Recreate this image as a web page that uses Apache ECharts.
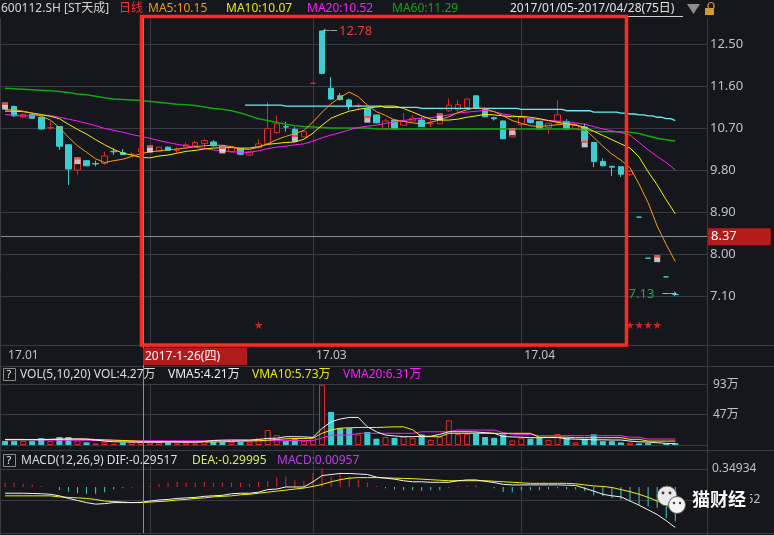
<!DOCTYPE html>
<html>
<head>
<meta charset="utf-8">
<script src="https://cdn.jsdelivr.net/npm/echarts@6/dist/echarts.min.js"></script>
<style>
html,body{margin:0;padding:0;background:#15171c;}
#c{width:774px;height:535px;}
</style>
</head>
<body>
<div id="c"></div>
<script>
// ---- trading days ----
const dates = [
  '2017-01-05','2017-01-06','2017-01-09','2017-01-10','2017-01-11','2017-01-12','2017-01-13','2017-01-16','2017-01-17','2017-01-18',
  '2017-01-19','2017-01-20','2017-01-23','2017-01-24','2017-01-25','2017-01-26',
  '2017-02-03','2017-02-06','2017-02-07','2017-02-08','2017-02-09','2017-02-10','2017-02-13','2017-02-14','2017-02-15','2017-02-16',
  '2017-02-17','2017-02-20','2017-02-21','2017-02-22','2017-02-23','2017-02-24','2017-02-27','2017-02-28',
  '2017-03-01','2017-03-02','2017-03-03','2017-03-06','2017-03-07','2017-03-08','2017-03-09','2017-03-10','2017-03-13','2017-03-14',
  '2017-03-15','2017-03-16','2017-03-17','2017-03-20','2017-03-21','2017-03-22','2017-03-23','2017-03-24','2017-03-27','2017-03-28',
  '2017-03-29','2017-03-30','2017-03-31',
  '2017-04-05','2017-04-06','2017-04-07','2017-04-10','2017-04-11','2017-04-12','2017-04-13','2017-04-14','2017-04-17','2017-04-18',
  '2017-04-19','2017-04-20','2017-04-21','2017-04-24','2017-04-25','2017-04-26','2017-04-27','2017-04-28'
];

// ---- daily bars: [open, close, low, high] ----
const kline = [
  [11.17,11.18,11.13,11.23],[11.16,10.96,10.94,11.18],[10.94,10.99,10.92,11.01],[10.99,10.91,10.90,11.00],[10.93,10.68,10.66,10.94],
  [10.70,10.71,10.66,10.84],[10.73,10.31,10.23,10.74],[10.34,9.82,9.48,10.35],[9.80,10.04,9.70,10.06],[10.00,9.89,9.88,10.01],
  [9.94,9.93,9.88,10.00],[9.94,10.10,9.91,10.19],[10.20,10.19,10.12,10.27],[10.17,10.13,10.12,10.25],[10.13,10.14,10.09,10.18],
  [10.19,10.26,10.17,10.28],[10.25,10.27,10.20,10.30],[10.20,10.29,10.19,10.30],[10.29,10.22,10.21,10.30],[10.22,10.23,10.17,10.28],
  [10.29,10.34,10.28,10.39],[10.32,10.39,10.29,10.43],[10.37,10.43,10.28,10.47],[10.40,10.32,10.30,10.44],[10.31,10.21,10.19,10.33],
  [10.19,10.30,10.18,10.31],[10.26,10.14,10.12,10.27],[10.12,10.19,10.10,10.20],[10.28,10.36,10.26,10.46],[10.36,10.69,10.35,11.26],
  [10.60,10.79,10.58,10.97],[10.73,10.72,10.62,10.84],[10.67,10.55,10.50,10.72],[10.51,10.62,10.50,10.63],[11.66,11.66,11.66,11.66],
  [12.78,11.87,11.85,12.78],[11.55,11.32,11.30,11.79],[11.39,11.31,11.29,11.45],[11.30,11.17,11.08,11.33],[11.17,11.18,11.08,11.23],
  [11.12,10.94,10.93,11.13],[10.98,10.81,10.80,10.99],[10.69,10.85,10.65,10.90],[10.87,10.68,10.67,10.89],[10.76,10.85,10.75,11.02],
  [10.85,10.91,10.84,10.98],[10.87,10.73,10.72,10.93],[10.79,10.80,10.72,10.88],[10.79,10.90,10.78,10.92],[11.07,11.19,11.05,11.33],
  [11.09,11.20,11.04,11.31],[11.14,11.32,11.13,11.33],[11.39,11.14,11.11,11.40],[11.10,10.94,10.93,11.14],[10.92,10.90,10.86,10.94],
  [10.85,10.47,10.46,10.86],[10.51,10.62,10.50,10.64],[10.77,10.93,10.70,11.10],[10.89,10.82,10.79,10.90],[10.84,10.68,10.67,10.85],
  [10.71,10.80,10.57,10.81],[10.84,10.98,10.77,11.30],[10.84,10.68,10.67,10.89],[10.69,10.76,10.68,10.77],[10.72,10.42,10.41,10.80],
  [10.39,9.98,9.86,10.40],[9.98,9.89,9.88,10.05],[9.88,9.86,9.67,9.89],[9.87,9.71,9.65,9.88],[9.70,9.77,9.68,9.79],
  [8.79,8.79,8.79,8.79],[7.91,7.91,7.91,7.91],[7.91,7.91,7.91,7.91],[7.51,7.51,7.51,7.51],[7.13,7.13,7.13,7.13]
];

// ---- moving averages of price ----
const ma5 = [
  11.09,11.09,11.06,11.02,10.95,10.87,10.71,10.50,10.32,10.18,
  10.04,9.96,10.00,10.03,10.09,10.15,10.19,10.21,10.23,10.25,
  10.27,10.30,10.32,10.33,10.33,10.30,10.25,10.24,10.29,10.36,
  10.45,10.52,10.58,10.65,10.83,11.04,11.22,11.36,11.47,11.37,
  11.19,11.05,10.97,10.87,10.84,10.81,10.79,10.82,10.88,10.94,
  11.03,11.09,11.14,11.11,11.05,10.96,10.86,10.80,10.75,10.73,
  10.75,10.77,10.79,10.78,10.67,10.50,10.31,10.14,10.01,9.85,
  9.50,9.10,8.60,8.20,7.84
];
const ma10 = [
  11.06,11.06,11.05,11.02,10.99,10.95,10.90,10.78,10.67,10.57,
  10.45,10.34,10.24,10.16,10.12,10.07,10.06,10.10,10.12,10.16,
  10.20,10.22,10.25,10.27,10.28,10.28,10.27,10.27,10.30,10.35,
  10.37,10.39,10.40,10.46,10.59,10.76,10.91,10.99,11.06,11.10,
  11.13,11.15,11.17,11.17,11.12,11.04,10.96,10.89,10.87,10.87,
  10.89,10.93,10.96,10.99,10.98,10.96,10.94,10.95,10.93,10.90,
  10.86,10.82,10.79,10.76,10.72,10.63,10.54,10.45,10.36,10.27,
  10.08,9.76,9.48,9.16,8.86
];
const ma20 = [
  10.99,10.97,10.96,10.96,10.97,10.97,10.93,10.89,10.85,10.80,
  10.75,10.69,10.65,10.61,10.56,10.52,10.48,10.43,10.39,10.35,
  10.32,10.29,10.26,10.23,10.21,10.19,10.18,10.18,10.21,10.26,
  10.29,10.31,10.34,10.36,10.42,10.49,10.55,10.60,10.66,10.71,
  10.74,10.76,10.80,10.83,10.86,10.89,10.91,10.92,10.95,10.98,
  11.02,11.04,11.06,11.08,11.05,11.00,10.97,10.93,10.90,10.88,
  10.86,10.85,10.84,10.81,10.78,10.73,10.68,10.64,10.60,10.55,
  10.39,10.23,10.09,9.96,9.80
];
const ma60 = [
  11.55,11.54,11.53,11.52,11.51,11.50,11.48,11.46,11.43,11.41,
  11.38,11.35,11.32,11.31,11.30,11.29,11.27,11.25,11.23,11.21,
  11.20,11.18,11.15,11.12,11.10,11.07,11.02,10.96,10.90,10.86,
  10.82,10.78,10.75,10.73,10.72,10.71,10.70,10.70,10.70,10.70,
  10.70,10.68,10.68,10.68,10.68,10.68,10.68,10.68,10.68,10.68,
  10.68,10.68,10.68,10.68,10.68,10.68,10.68,10.68,10.68,10.68,
  10.68,10.68,10.68,10.68,10.65,10.63,10.62,10.62,10.62,10.61,
  10.58,10.53,10.48,10.45,10.42
];
const longMA = [
  null,null,null,null,null,null,null,null,null,null,
  null,null,null,null,null,null,null,null,null,null,
  null,null,null,null,null,null,null,11.19,11.19,11.19,
  11.19,11.17,11.17,11.17,11.17,11.17,11.17,11.17,11.17,11.17,
  11.17,11.17,11.14,11.14,11.14,11.14,11.12,11.12,11.12,11.12,
  11.12,11.12,11.12,11.12,11.12,11.12,11.12,11.10,11.10,11.10,
  11.10,11.10,11.07,11.07,11.07,11.04,11.04,11.04,11.02,11.00,
  10.98,10.96,10.93,10.90,10.86
];

// ---- volume (万手) and its averages ----
const vol = [
  6.1,6.1,6.0,6.0,10.7,6.0,12.3,12.3,7.0,4.1,
  2.5,5.0,2.0,4.0,5.0,4.27,4.0,4.0,4.0,2.5,
  4.0,2.5,7.0,5.0,5.0,5.0,5.0,5.0,10.2,23.0,
  15.3,6.0,9.0,6.0,12.0,93.0,51.0,26.0,26.0,16.4,
  20.0,9.7,12.3,11.0,12.8,11.0,16.4,8.0,12.8,38.0,
  17.0,17.0,17.0,12.3,11.0,16.4,7.0,11.0,9.7,11.0,
  8.0,17.0,11.0,4.0,9.7,16.4,6.0,6.0,4.0,3.5,
  2.5,3.0,0,2.0,3.0
];
const vma5 = [
  8.0,8.0,8.0,8.0,8.0,8.5,9.0,9.2,9.2,9.0,
  7.5,6.0,5.0,4.8,4.5,4.21,4.3,4.3,4.5,4.5,
  4.5,4.5,5.5,7.0,7.5,7.7,7.7,7.7,8.5,10.2,
  10.5,12.8,12.8,12.5,11.7,25.6,35.8,40.0,42.5,42.5,
  28.0,20.4,15.3,14.0,12.8,12.8,13.5,13.5,16.4,20.4,
  20.4,20.4,20.0,19.0,18.0,13.0,12.5,12.0,11.3,11.3,
  11.5,11.5,9.5,9.0,8.5,8.0,8.0,7.7,7.7,6.0,
  5.0,4.5,3.5,2.5,2.0
];
const vma10 = [
  8.5,8.5,8.5,8.5,8.5,8.7,9.0,9.2,9.2,9.2,
  8.5,8.0,7.5,7.0,6.3,5.73,5.5,5.3,5.2,5.0,
  4.8,4.6,4.6,4.8,5.0,5.5,6.0,6.2,6.5,7.5,
  8.5,9.5,10.0,10.0,10.5,18.0,23.0,26.0,26.5,27.0,
  27.0,27.0,27.5,28.0,28.0,23.5,12.8,12.8,12.8,18.0,
  18.0,18.0,18.0,18.0,18.0,18.0,18.0,18.0,18.0,12.0,
  12.0,12.0,12.0,11.3,11.3,11.3,11.3,11.3,11.3,8.7,
  8.7,6.0,6.0,6.0,6.0
];
const vma20 = [
  8.7,8.7,8.7,8.0,7.7,7.5,7.5,7.4,7.3,7.2,
  7.0,6.9,6.7,6.6,6.4,6.31,6.4,6.5,6.5,6.5,
  6.5,6.5,6.5,6.6,6.6,6.6,6.7,6.7,6.7,6.8,
  6.8,6.8,6.9,6.9,7.0,11.0,15.0,15.3,15.3,18.0,
  18.0,18.0,18.0,18.0,18.0,18.0,20.4,20.4,20.4,20.4,
  23.0,23.0,23.0,23.0,23.0,19.0,16.4,16.4,16.4,14.3,
  14.3,14.3,14.3,14.3,14.3,14.3,14.3,14.3,14.3,12.0,
  12.0,9.2,9.2,9.2,9.2
];

// ---- MACD(12,26,9) ----
const dif = [
  -0.12,-0.12,-0.12,-0.125,-0.13,-0.14,-0.17,-0.22,-0.26,-0.30,
  -0.33,-0.32,-0.30,-0.30,-0.30,-0.29517,-0.27,-0.25,-0.24,-0.22,
  -0.21,-0.20,-0.18,-0.17,-0.16,-0.13,-0.12,-0.12,-0.10,-0.05,
  -0.04,0.0,0.0,0.0,0.10,0.22,0.24,0.26,0.26,0.25,
  0.24,0.19,0.17,0.15,0.12,0.10,0.10,0.09,0.09,0.09,
  0.12,0.135,0.135,0.11,0.085,0.05,0.04,0.04,0.04,0.04,
  0.04,0.04,0.035,0.03,-0.026,-0.08,-0.14,-0.17,-0.19,-0.27,
  -0.35,-0.44,-0.53,-0.65,-0.78
];
const dea = [
  -0.17,-0.17,-0.17,-0.17,-0.17,-0.17,-0.19,-0.20,-0.21,-0.22,
  -0.24,-0.27,-0.28,-0.29,-0.30,-0.29995,-0.29,-0.28,-0.27,-0.25,
  -0.24,-0.22,-0.21,-0.19,-0.18,-0.17,-0.15,-0.14,-0.12,-0.10,
  -0.08,-0.06,-0.04,-0.02,0.01,0.05,0.10,0.14,0.17,0.18,
  0.18,0.18,0.175,0.17,0.165,0.16,0.15,0.14,0.13,0.12,
  0.12,0.12,0.12,0.12,0.11,0.10,0.09,0.08,0.07,0.07,
  0.07,0.07,0.07,0.06,0.04,0.02,0.01,-0.01,-0.05,-0.09,
  -0.14,-0.20,-0.27,-0.35,-0.44
];
const macd = [
  0.083,0.083,0.064,0.05,0.02,0.005,-0.06,-0.09,-0.12,-0.13,
  -0.13,-0.10,-0.05,-0.025,-0.01,0.00957,0.02,0.06,0.08,0.096,
  0.08,0.08,0.096,0.08,0.08,0.08,0.08,0.064,0.096,0.11,
  0.18,0.20,0.13,0.11,0.27,0.36,0.20,0.28,0.20,0.15,
  0.08,0.02,-0.026,-0.05,-0.064,-0.064,-0.07,-0.064,-0.058,-0.01,
  0.02,0.035,0.035,0.005,-0.026,-0.096,-0.10,-0.064,-0.064,-0.064,
  -0.045,-0.026,-0.045,-0.05,-0.083,-0.16,-0.18,-0.21,-0.24,-0.26,
  -0.34,-0.37,-0.40,-0.60,-0.66
];

// ---- axis ticks and annotations ----
const priceTicks = [12.5, 11.6, 10.7, 9.8, 8.9, 8.0, 7.1];
const volTicks = [93, 47];
const macdTicks = [0.34934, -0.24952];
const monthLabels = ['17.01', '17.02', '17.03', '17.04'];
const eventDays = [0, 8, 16, 24, 32, 40, 48, 56, 64, 72];
const eventPrices = [11.17, 10.00, 10.25, 10.23, 10.48, 10.89, 10.94, 10.62, 10.36, 7.90];
const starDays = [28, 69, 70, 71, 72];
const starLevel = 6.48;
const cursorDay = 15;
const cursorPrice = 8.37;

// ---- styling ----
const BG = '#15171c';
const UP = '#e5262b';
const DOWN = '#3ccdd0';
const GRID = '#383b41';
const AXTXT = '#bcc0c8';
const FONT = "'Noto Sans','Noto Sans CJK SC',sans-serif";

const monthStart = dates.reduce((acc, d, i) => {
  if (i === 0 || d.slice(5, 7) !== dates[i - 1].slice(5, 7)) acc.push(i);
  return acc;
}, []);
const cats = dates.concat([' ', '  ', '   ']); // empty slots on the right edge

const volData = vol.map((v, i) => {
  const up = i > 0 && kline[i][1] >= kline[i - 1][1];
  if (v === 0) return {value: v, itemStyle: {color: 'transparent', borderWidth: 0}};
  return {value: v, itemStyle: up ? {color: BG, borderColor: UP, borderWidth: 1} : {color: DOWN, borderWidth: 0}};
});
const macdData = macd.map(v => ({value: v, itemStyle: {color: v >= 0 ? '#e8242a' : DOWN}}));

const monthLines = monthStart.slice(1).map(i => ({xAxis: dates[i]}));
const gridMark = (vals) => ({
  silent: true, symbol: ['none', 'none'], z: 1, animation: false,
  label: {show: false}, emphasis: {disabled: true},
  lineStyle: {color: GRID, width: 1, type: 'solid'},
  data: vals.map(v => ({yAxis: v})).concat(monthLines)
});

const lineSeries = (name, data, color, xi, width, extra) => Object.assign({
  name, type: 'line', data, xAxisIndex: xi, yAxisIndex: xi,
  showSymbol: false, symbol: 'none', silent: true, connectNulls: false,
  lineStyle: {color, width: width || 1}, z: 3
}, extra || {});

const weekday = '日一二三四五六';
const cd = dates[cursorDay].split('-');
const cursorDate = new Date(+cd[0], +cd[1] - 1, +cd[2]);
const cursorLabel = `${+cd[0]}-${+cd[1]}-${+cd[2]}(${weekday[cursorDate.getDay()]})`;
const rangeLabel = dates[0].replace(/-/g, '/') + '-' + dates[dates.length - 1].replace(/-/g, '/') + '(' + dates.length + '日)';

const txt = (x, y, text, fill, size, extra) => ({
  type: 'text', x, y, z: 120, silent: true,
  style: Object.assign({text, fill, font: (size || 12) + 'px ' + FONT, verticalAlign: 'middle', align: 'left'}, extra || {})
});
const hline = (y, x1, x2, color) => ({type: 'line', z: 110, silent: true, shape: {x1, y1: y, x2, y2: y}, style: {stroke: color || GRID, lineWidth: 1}});
const vline = (x, y1, y2, color) => ({type: 'line', z: 110, silent: true, shape: {x1: x, y1, x2: x, y2}, style: {stroke: color || GRID, lineWidth: 1}});

const option = {
  backgroundColor: BG,
  animation: false,
  textStyle: {fontFamily: FONT},
  grid: [
    {left: 0.5, right: 67, top: 18, height: 327},
    {left: 0.5, right: 67, top: 384, height: 61},
    {left: 0.5, right: 67, top: 451, height: 82}
  ],
  xAxis: [
    {
      type: 'category', gridIndex: 0, data: cats, boundaryGap: true,
      axisLine: {show: false}, axisTick: {show: false}, splitLine: {show: false},
      axisLabel: {
        show: true, interval: (i) => monthStart.includes(i),
        formatter: (v, i) => monthLabels[monthStart.indexOf(i)] || '',
        color: AXTXT, fontSize: 12, align: 'left', margin: 5, padding: [0, 0, 0, 3]
      }
    },
    {
      type: 'category', gridIndex: 1, data: cats, boundaryGap: true,
      axisLine: {show: true, lineStyle: {color: '#a51212', type: 'dotted', width: 1}},
      axisTick: {show: false}, axisLabel: {show: false}, splitLine: {show: false}
    },
    {
      type: 'category', gridIndex: 2, data: cats, boundaryGap: true,
      axisLine: {show: false}, axisTick: {show: false}, axisLabel: {show: false}, splitLine: {show: false}
    }
  ],
  yAxis: [
    {
      type: 'value', gridIndex: 0, position: 'right', min: 6.05, max: 13.0571,
      splitLine: {show: false}, axisLine: {show: false}, axisTick: {show: false},
      axisLabel: {customValues: priceTicks, formatter: v => v.toFixed(2), color: AXTXT, fontSize: 13, margin: 3}
    },
    {
      type: 'value', gridIndex: 1, position: 'right', min: 0, max: 94,
      splitLine: {show: false}, axisLine: {show: false}, axisTick: {show: false},
      axisLabel: {customValues: volTicks, formatter: v => Math.round(v) + '万', color: AXTXT, fontSize: 12, margin: 6}
    },
    {
      type: 'value', gridIndex: 2, position: 'right', min: -0.885, max: 0.692,
      splitLine: {show: false}, axisLine: {show: false}, axisTick: {show: false},
      axisLabel: {customValues: macdTicks, formatter: v => v.toFixed(5), color: AXTXT, fontSize: 12, margin: 5}
    }
  ],
  series: [
    {
      name: 'K', type: 'candlestick', data: kline, xAxisIndex: 0, yAxisIndex: 0,
      barWidth: 6, silent: true, z: 2,
      itemStyle: {color: BG, color0: DOWN, borderColor: UP, borderColor0: DOWN, borderWidth: 1},
      markLine: {
        silent: true, symbol: ['none', 'none'], z: 20, animation: false,
        lineStyle: {color: '#8d8d8d', width: 1, type: 'solid'},
        label: {
          show: true, position: 'end', distance: 1, formatter: cursorPrice.toFixed(2),
          backgroundColor: '#b31c1c', color: '#ffffff', fontSize: 13, padding: [2, 34, 2, 3]
        },
        data: [{yAxis: cursorPrice}]
      },
      markPoint: {
        silent: true, symbol: 'circle', symbolSize: 1, animation: false,
        itemStyle: {color: 'transparent'},
        data: [
          {
            coord: [dates[35], kline[35][3]], value: kline[35][3],
            label: {
              show: true, position: 'right', distance: 0,
              formatter: '{a|←─}{b|' + kline[35][3].toFixed(2) + '}',
              rich: {a: {color: '#b9b9b9', fontSize: 10, fontFamily: 'DejaVu Sans'}, b: {color: '#e63a3d', fontSize: 13, padding: [0, 0, 0, 2]}}
            }
          },
          {
            coord: [dates[74], kline[74][2]], value: kline[74][2],
            label: {
              show: true, position: 'left', distance: -2,
              formatter: '{b|' + kline[74][2].toFixed(2) + '}{a|─→}',
              rich: {a: {color: '#c8c8c8', fontSize: 10, fontFamily: 'DejaVu Sans', padding: [0, 0, 0, 8]}, b: {color: '#22a54d', fontSize: 13}}
            }
          }
        ]
      }
    },
    lineSeries('MA60', ma60, '#0fa60f', 0, 1.5, {markLine: gridMark(priceTicks)}),
    lineSeries('LONG', longMA, '#5ff0f5', 0, 1.3, {step: 'middle'}),
    lineSeries('MA20', ma20, '#ff1aff', 0, 1),
    lineSeries('MA10', ma10, '#f2f200', 0, 1),
    lineSeries('MA5', ma5, '#ff9a10', 0, 1),
    {
      name: 'event', type: 'scatter', xAxisIndex: 0, yAxisIndex: 0, silent: true, z: 5,
      symbol: 'rect', symbolSize: [6, 7], itemStyle: {color: '#ececec'},
      data: eventDays.map((d, k) => [dates[d], eventPrices[k]])
    },
    {
      name: 'eventTop', type: 'scatter', xAxisIndex: 0, yAxisIndex: 0, silent: true, z: 6,
      symbol: 'rect', symbolSize: [6, 2.5], symbolOffset: [0, -2.3], itemStyle: {color: '#e2363a'},
      data: eventDays.map((d, k) => [dates[d], eventPrices[k]])
    },
    {
      name: 'star', type: 'scatter', xAxisIndex: 0, yAxisIndex: 0, silent: true, z: 6,
      symbol: 'path://M50,0 L61,35 L98,35 L68,57 L79,91 L50,70 L21,91 L32,57 L2,35 L39,35 Z',
      symbolSize: 8, itemStyle: {color: '#ff2a2a'},
      data: starDays.map(d => [dates[d], starLevel])
    },
    {
      name: 'VOL', type: 'bar', xAxisIndex: 1, yAxisIndex: 1, data: volData, barWidth: 6, silent: true, z: 2,
      markLine: gridMark(volTicks)
    },
    lineSeries('VMA20', vma20, '#ff1aff', 1, 1),
    lineSeries('VMA10', vma10, '#f2f200', 1, 1),
    lineSeries('VMA5', vma5, '#f4f4f4', 1, 1),
    {
      name: 'MACD', type: 'bar', xAxisIndex: 2, yAxisIndex: 2, data: macdData, barWidth: 1, silent: true, z: 2,
      markLine: gridMark(macdTicks)
    },
    lineSeries('DEA', dea, '#f2f200', 2, 1),
    lineSeries('DIF', dif, '#f4f4f4', 2, 1)
  ],
  graphic: [
    // panel frame
    vline(0.5, 18, 535), vline(707.5, 18, 535),
    hline(345.5, 0, 774), hline(366.5, 0, 774), hline(450.5, 0, 774), hline(533.5, 0, 774),
    // cursor
    vline(143.5, 18, 533, '#8d8d8d'),
    // highlighted range
    {type: 'rect', z: 115, silent: true, shape: {x: 141.5, y: 16.5, width: 485, height: 328.5},
     style: {fill: null, stroke: '#ff2a1f', lineWidth: 3.5}},
    // cursor date tag
    {type: 'rect', z: 118, silent: true, shape: {x: 143, y: 348, width: 104, height: 17}, style: {fill: '#b21b1b'}},
    txt(145, 356.5, cursorLabel, '#ffffff', 12),
    // title bar
    txt(1, 9, '600112.SH [ST天成]', '#d4d4d4', 12),
    txt(119, 9, '日线', '#ff2b2b', 12),
    txt(148, 9, 'MA5:' + ma5[cursorDay].toFixed(2), '#f39c12', 12),
    txt(226, 9, 'MA10:' + ma10[cursorDay].toFixed(2), '#e8e800', 12),
    txt(307, 9, 'MA20:' + ma20[cursorDay].toFixed(2), '#ff1aff', 12),
    txt(392, 9, 'MA60:' + ma60[cursorDay].toFixed(2), '#0fa60f', 12),
    txt(510, 9, rangeLabel, '#e2e2e2', 12),
    hline(16.5, 510, 683, '#d0d0d0'),
    {type: 'polygon', z: 120, silent: true, shape: {points: [[687, 4], [700, 4], [693.5, 14]]}, style: {fill: '#8e8e8e'}},
    {type: 'rect', z: 120, silent: true, shape: {x: 705, y: 8, width: 9, height: 7}, style: {fill: '#d49a2a'}},
    {type: 'rect', z: 120, silent: true, shape: {x: 708, y: 2.5, width: 6, height: 7, r: 3}, style: {fill: null, stroke: '#d49a2a', lineWidth: 1.2}},
    // volume legend
    {type: 'rect', z: 120, silent: true, shape: {x: 3.5, y: 368.5, width: 12, height: 12}, style: {fill: null, stroke: '#8a8a8a', lineWidth: 1}},
    txt(6.5, 375, '?', '#e6e6e6', 11),
    txt(20, 375, 'VOL(5,10,20) VOL:' + vol[cursorDay].toFixed(2) + '万', '#dcdcdc', 12),
    txt(168, 375, 'VMA5:' + vma5[cursorDay].toFixed(2) + '万', '#e8eef0', 12),
    txt(252, 375, 'VMA10:' + vma10[cursorDay].toFixed(2) + '万', '#e8e800', 12),
    txt(343, 375, 'VMA20:' + vma20[cursorDay].toFixed(2) + '万', '#ff1aff', 12),
    // MACD legend
    {type: 'rect', z: 120, silent: true, shape: {x: 3.5, y: 454.5, width: 12, height: 12}, style: {fill: null, stroke: '#8a8a8a', lineWidth: 1}},
    txt(6.5, 460.5, '?', '#e6e6e6', 11),
    txt(21, 460.5, 'MACD(12,26,9) DIF:' + dif[cursorDay].toFixed(5), '#dcdcdc', 12),
    txt(192, 460.5, 'DEA:' + dea[cursorDay].toFixed(5), '#d6ea5a', 12),
    txt(277, 460.5, 'MACD:' + macd[cursorDay].toFixed(5), '#c03cf0', 12),
    // watermark
    {type: 'rect', z: 125, silent: true, shape: {x: 709, y: 491, width: 41, height: 18}, style: {fill: BG}},
    {type: 'circle', z: 126, silent: true, shape: {cx: 667, cy: 496, r: 10}, style: {fill: '#e9e9e9', stroke: '#5a5a5a', lineWidth: 1}},
    {type: 'circle', z: 127, silent: true, shape: {cx: 677, cy: 505, r: 8.5}, style: {fill: '#f4f4f4', stroke: '#5a5a5a', lineWidth: 1}},
    {type: 'circle', z: 128, silent: true, shape: {cx: 663, cy: 493, r: 1.4}, style: {fill: '#3a3a3a'}},
    {type: 'circle', z: 128, silent: true, shape: {cx: 670, cy: 493, r: 1.4}, style: {fill: '#3a3a3a'}},
    {type: 'circle', z: 128, silent: true, shape: {cx: 674, cy: 503, r: 1.2}, style: {fill: '#3a3a3a'}},
    {type: 'circle', z: 128, silent: true, shape: {cx: 680, cy: 503, r: 1.2}, style: {fill: '#3a3a3a'}},
    {type: 'text', z: 129, x: 692, y: 500.5, silent: true,
     style: {text: '猫财经', fill: '#f8f8f8', font: 'bold 18px ' + FONT, verticalAlign: 'middle',
             textShadowColor: 'rgba(0,0,0,0.6)', textShadowBlur: 2}}
  ]
};

const chart = echarts.init(document.getElementById('c'), null, {renderer: 'canvas'});
chart.setOption(option);
</script>
</body>
</html>
